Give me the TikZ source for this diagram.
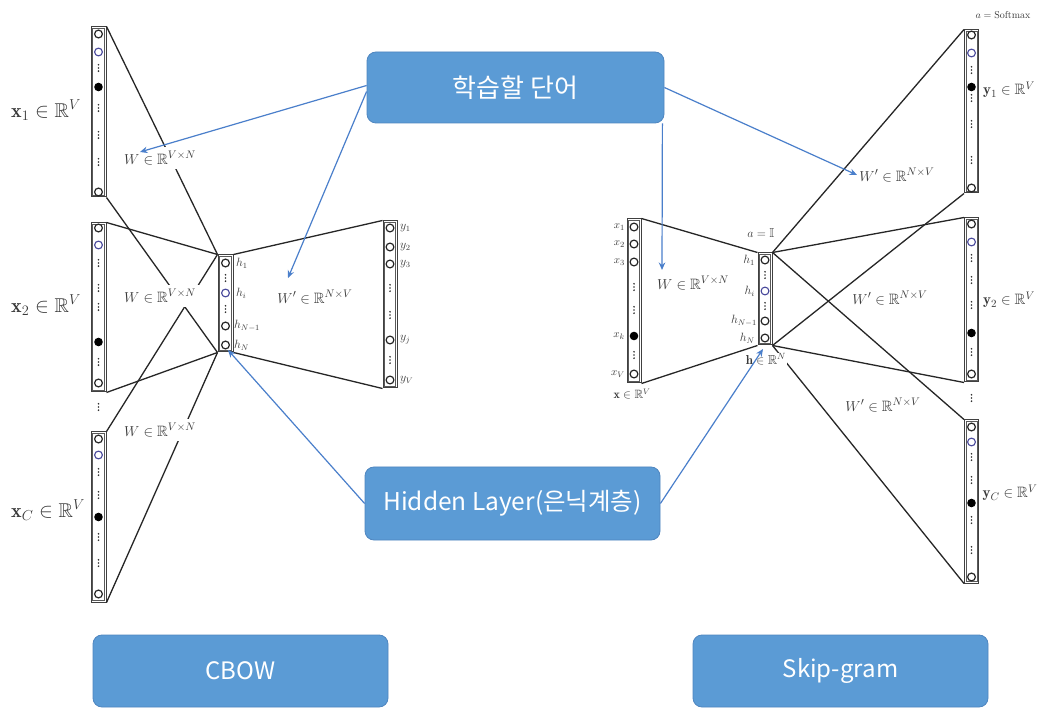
\documentclass[tikz,border=0pt]{standalone}
\usepackage{amsmath,amssymb}
\usepackage{fontspec}
\newfontfamily\kr{Noto Sans CJK KR}
\usetikzlibrary{arrows.meta}
\definecolor{btn}{HTML}{5B9BD5}
\definecolor{btnline}{HTML}{4F86C0}
\definecolor{arr}{HTML}{4A7FCB}
\definecolor{lbl}{HTML}{3A3A3A}
\definecolor{cblue}{HTML}{4A4A9C}
\newcommand{\myfs}[1]{\fontsize{#1}{#1}\selectfont}
\newcommand{\citems}[2]{%
  \foreach \myy/\myk in {#2}{%
    \ifcase\myk\relax
      \draw[black!85, line width=1.2pt] (#1,\myy) circle[radius=3.9pt];
    \or
      \draw[cblue, line width=1.1pt] (#1,\myy) circle[radius=3.9pt];
    \or
      \fill[black] (#1,\myy) circle[radius=4.3pt];
    \or
      \foreach \myd in {-3.2,0,3.2} \fill[black!80] (#1,\myy+\myd) circle[radius=0.95pt];
    \fi}}
\newcommand{\inner}[1]{%
  \draw[black!65, line width=0.6pt] ([shift={(2.2pt,-2.2pt)}]#1.north west) rectangle ([shift={(-2.2pt,2.2pt)}]#1.south east);}
\begin{document}
\begin{tikzpicture}[x=1pt,y=-1pt,
  col/.style={rectangle, draw=black!75, line width=1pt, fill=white, inner sep=0pt, minimum width=14pt},
  conn/.style={draw=black!85, line width=1.3pt},
  mlab/.style={text=lbl, inner sep=1pt},
  wlab/.style={text=lbl, fill=white, inner sep=4pt, font=\myfs{15}},
  btnbox/.style={rectangle, rounded corners=9pt, fill=btn, draw=btnline, line width=0.8pt, text=white, font=\kr\myfs{24}},
  harrow/.style={draw=arr, line width=1.2pt, -{Stealth[length=7.5pt,width=6.5pt]}}]
\fill[white] (0,0) rectangle (1042,708);
\useasboundingbox (0,0) rectangle (1042,708);

% ---------- CBOW columns ----------
\node[col, minimum width=15pt, minimum height=170pt] (x1) at (98.5,112) {};
\node[col, minimum width=15pt, minimum height=169pt] (x2) at (98.5,307.5) {};
\node[col, minimum width=15pt, minimum height=170pt] (xC) at (98.5,517) {};
\node[col, minimum width=15pt, minimum height=97pt] (hc) at (225.5,303.5) {};
\node[col, minimum width=14pt, minimum height=167pt] (yc) at (390,304.5) {};

% ---------- Skip-gram columns ----------
\node[col, minimum height=164pt] (sx) at (634,301) {};
\node[col, minimum height=92pt] (sh) at (765,299) {};
\node[col, minimum height=163pt] (sy1) at (971.5,111.5) {};
\node[col, minimum height=164pt] (sy2) at (971.5,300) {};
\node[col, minimum height=163pt] (syC) at (971.5,501.5) {};
\inner{x1}\inner{x2}\inner{xC}\inner{hc}\inner{yc}
\inner{sx}\inner{sh}\inner{sy1}\inner{sy2}\inner{syC}

% ---------- connectors CBOW ----------
\draw[conn] (x1.north east) -- (hc.north west);
\draw[conn] (x1.south east) -- (hc.south west);
\draw[conn] (x2.north east) -- (hc.north west);
\draw[conn] (x2.south east) -- (hc.south west);
\draw[conn] (xC.north east) -- (hc.north west);
\draw[conn] (xC.south east) -- (hc.south west);
\draw[conn] (hc.north east) -- (yc.north west);
\draw[conn] (hc.south east) -- (yc.south west);

% ---------- connectors Skip-gram ----------
\draw[conn] (sx.north east) -- (sh.north west);
\draw[conn] (sx.south east) -- (sh.south west);
\draw[conn] (sh.north east) -- (sy1.north west);
\draw[conn] (sh.south east) -- (sy1.south west);
\draw[conn] (sh.north east) -- (sy2.north west);
\draw[conn] (sh.south east) -- (sy2.south west);
\draw[conn] (sh.north east) -- (syC.north west);
\draw[conn] (sh.south east) -- (syC.south west);

% ---------- column contents ----------
\citems{98.5}{34/0,52/1,68/3,87/2,108/3,135/3,162/3,192/0}
\citems{98.5}{228/0,245/1,263/3,288/3,307/3,342/2,362/3,383/0}
\citems{98.5}{439/0,455/1,472/3,495/3,517/2,537/3,563/3,594/0}
\citems{98.5}{407/3}
\citems{225.5}{263/0,278/3,293/1,309/3,326/0,345/0}
\citems{390}{228/0,247/0,264/0,288/3,315/3,340/0,360/3,380/0}
\citems{634}{227/0,244/0,262/0,287/3,310/3,336/2,355/3,374/0}
\citems{765}{260/0,275/3,291/1,306/3,321/0,338/0}
\citems{971.5}{35/0,53/1,70/3,87/2,98/3,124/3,160/3,188/0}
\citems{971.5}{224/0,242/1,258/3,280/3,305/3,333/2,352/3,374/0}
\citems{971.5}{398/3}
\citems{971.5}{427/0,442/1,457/3,480/3,503/2,520/3,550/3,577/0}

% ---------- CBOW labels ----------
\node[mlab, anchor=west, font=\myfs{20}] (lx1) at (10,110) {$\mathbf{x}_1\in\mathbb{R}^V$};
\node[mlab, anchor=west, font=\myfs{20}] (lx2) at (10,305) {$\mathbf{x}_2\in\mathbb{R}^V$};
\node[mlab, anchor=west, font=\myfs{20}] (lxC) at (10,510) {$\mathbf{x}_C\in\mathbb{R}^V$};
\node[wlab] (w1) at (160,158) {$W\in\mathbb{R}^{V\times N}$};
\node[wlab] (w2) at (160,296) {$W\in\mathbb{R}^{V\times N}$};
\node[wlab] (w3) at (160,430) {$W\in\mathbb{R}^{V\times N}$};
\node[wlab] (wp) at (315,297) {$W'\in\mathbb{R}^{N\times V}$};
\node[mlab, anchor=west, font=\myfs{12}] (h1) at (235,263) {$h_1$};
\node[mlab, anchor=west, font=\myfs{12}] (hi) at (235,293) {$h_i$};
\node[mlab, anchor=west, font=\myfs{12}] (hn1) at (233,326) {$h_{N-1}$};
\node[mlab, anchor=west, font=\myfs{12}] (hn) at (233,345) {$h_N$};
\node[mlab, anchor=west, font=\myfs{12}] (ly1) at (399,228) {$y_1$};
\node[mlab, anchor=west, font=\myfs{12}] (ly2) at (399,247) {$y_2$};
\node[mlab, anchor=west, font=\myfs{12}] (ly3) at (399,264) {$y_3$};
\node[mlab, anchor=west, font=\myfs{12}] (lyj) at (399,340) {$y_j$};
\node[mlab, anchor=west, font=\myfs{12}] (lyV) at (399,380) {$y_V$};

% ---------- Skip-gram labels ----------
\node[mlab, anchor=east, font=\myfs{11}] (sx1) at (626,227) {$x_1$};
\node[mlab, anchor=east, font=\myfs{11}] (sx2) at (626,244) {$x_2$};
\node[mlab, anchor=east, font=\myfs{11}] (sx3) at (626,262) {$x_3$};
\node[mlab, anchor=east, font=\myfs{11}] (sxk) at (626,336) {$x_k$};
\node[mlab, anchor=east, font=\myfs{11}] (sxV) at (626,374) {$x_V$};
\node[mlab, font=\myfs{12}] (sxl) at (632,394) {$\mathbf{x}\in\mathbb{R}^V$};
\node[wlab] (sw) at (693,283) {$W\in\mathbb{R}^{V\times N}$};
\node[mlab, font=\myfs{13}] (sa) at (761,233) {$a=\mathbb{I}$};
\node[mlab, anchor=east, font=\myfs{12}] (sh1) at (756,260) {$h_1$};
\node[mlab, anchor=east, font=\myfs{12}] (shi) at (756,291) {$h_i$};
\node[mlab, anchor=east, font=\myfs{12}] (shn1) at (758,321) {$h_{N-1}$};
\node[mlab, anchor=east, font=\myfs{12}] (shn) at (756,338) {$h_N$};
\node[mlab, fill=white, font=\myfs{13}] (shl) at (766,359) {$\mathbf{h}\in\mathbb{R}^N$};
\node[mlab, font=\myfs{10}] (ssm) at (1003,15) {$a=\mathrm{Softmax}$};
\node[mlab, font=\myfs{15}] (sy1l) at (1009,90) {$\mathbf{y}_1\in\mathbb{R}^V$};
\node[mlab, font=\myfs{15}] (sy2l) at (1009,300) {$\mathbf{y}_2\in\mathbb{R}^V$};
\node[mlab, font=\myfs{15}] (syCl) at (1010,493) {$\mathbf{y}_C\in\mathbb{R}^V$};
\node[wlab] (sw1) at (897,175) {$W'\in\mathbb{R}^{N\times V}$};
\node[wlab] (sw2) at (890,298) {$W'\in\mathbb{R}^{N\times V}$};
\node[wlab] (sw3) at (883,405) {$W'\in\mathbb{R}^{N\times V}$};

% ---------- buttons ----------
\node[btnbox, font=\kr\myfs{26}, minimum width=297pt, minimum height=71pt] (learn) at (515.5,87.5) {학습할 단어};
\node[btnbox, font=\kr\myfs{24.5}, minimum width=295pt, minimum height=73pt] (hidden) at (512.5,503.5) {Hidden Layer(은닉계층)};
\node[btnbox, minimum width=295pt, minimum height=72pt] (cbow) at (240.5,671) {CBOW};
\node[btnbox, minimum width=295pt, minimum height=72pt] (skip) at (840.5,671) {Skip-gram};

% ---------- blue arrows ----------
\coordinate (t1) at (140,152);
\coordinate (t2) at (288,278);
\coordinate (t3) at (857,175);
\coordinate (t4) at (662,270);
\coordinate (t5) at (228,350);
\coordinate (t6) at (763,349);
\draw[harrow] ([yshift=2pt]learn.west) -- (t1);
\draw[harrow] ([yshift=-4pt]learn.west) -- (t2);
\draw[harrow] (learn.east) -- (t3);
\draw[harrow] ([xshift=-2pt]learn.south east) -- (t4);
\draw[harrow] (hidden.west) -- (t5);
\draw[harrow] (hidden.east) -- (t6);
\end{tikzpicture}
\end{document}
